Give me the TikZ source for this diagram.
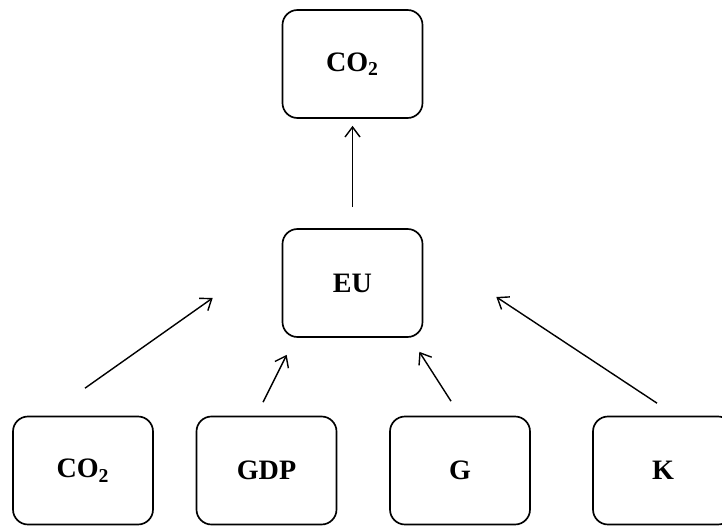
\documentclass[tikz,border=0pt]{standalone}
\usepackage{fontspec}
\setmainfont{Liberation Serif}
\usepackage{tikz}
\usetikzlibrary{
    arrows.meta,
    positioning
}
\tikzstyle{box} = [
    draw,
    line width=0.95pt,
    rounded corners=0.3cm,
    minimum width=2.8cm,
    minimum height=2.16cm,
    font=\fontsize{16}{19}\selectfont\bfseries
]
\tikzstyle{flow} = [
    line width=0.8pt,
    -{Straight Barb[length=2mm,width=3mm]}
]

\begin{document}
\begin{tikzpicture}
\useasboundingbox (0,0) rectangle (14.44,10.5);
\node[box] (co2top) at (7.05,9.22) {CO\textsubscript{2}};
\node[box] (eu)     at (7.05,4.84) {EU};
\node[box] (co2)    at (1.66,1.09) {CO\textsubscript{2}};
\node[box] (gdp)    at (5.33,1.09) {GDP};
\node[box] (g)      at (9.20,1.09) {G};
\node[box] (k)      at (13.26,1.09) {K};

\draw[flow] ([yshift=4.2mm]eu.north) -- ([yshift=-1.4mm]co2top.south);
\draw[flow] ([shift={(0.04,0.55)}]co2.north) -- ([shift={(-1.38,-0.30)}]eu.west);
\draw[flow] ([shift={(-0.07,0.27)}]gdp.north) -- ([shift={(0.10,-0.34)}]eu.south west);
\draw[flow] ([shift={(-0.18,0.29)}]g.north) -- ([shift={(-0.08,-0.28)}]eu.south east);
\draw[flow] ([shift={(-0.12,0.25)}]k.north) -- ([shift={(1.46,-0.28)}]eu.east);
\end{tikzpicture}
\end{document}
